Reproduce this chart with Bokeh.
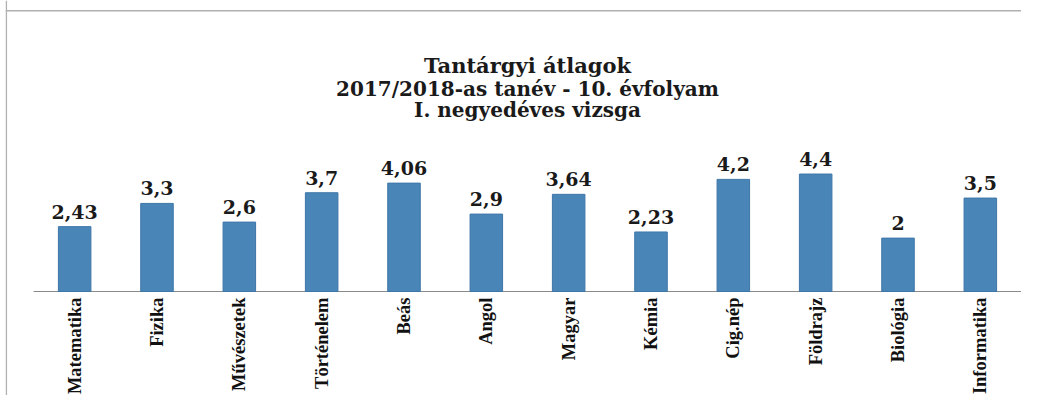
import math
from bokeh.plotting import figure
from bokeh.models import ColumnDataSource, Range1d, Span
from bokeh.core.properties import value
from bokeh.embed import file_html
from bokeh.resources import INLINE

subjects = ["Matematika", "Fizika", "Művészetek", "Történelem", "Beás", "Angol",
            "Magyar", "Kémia", "Cig.nép", "Földrajz", "Biológia", "Informatika"]
averages = [2.43, 3.3, 2.6, 3.7, 4.06, 2.9, 3.64, 2.23, 4.2, 4.4, 2, 3.5]
title_lines = ["Tantárgyi átlagok", "2017/2018-as tanév - 10. évfolyam", "I. negyedéves vizsga"]

n = len(subjects)
xs = [i + 0.5 for i in range(n)]
labels = [("%g" % v).replace(".", ",") for v in averages]
src = ColumnDataSource(dict(x=xs, top=averages, label=labels, subject=subjects,
                            zero=[0] * n))

# frame covers the whole canvas; categories occupy 0..12, the strip below 0 holds the tick labels
p = figure(width=1021, height=395, output_backend="svg", toolbar_location=None,
           x_range=Range1d(-0.34, 12), y_range=Range1d(-3.895, 10.9),
           min_border_left=5, min_border_right=0, min_border_top=0, min_border_bottom=0)
p.outline_line_color = None
p.xaxis.visible = False
p.yaxis.visible = False
p.xgrid.visible = False
p.ygrid.visible = False
p.background_fill_color = "white"
p.border_fill_color = "white"

# chart-area border (left and top)
p.add_layout(Span(location=-0.33, dimension="height", line_color="#b0b0b0", line_width=1.5))
p.add_layout(Span(location=10.52, dimension="width", line_color="#b0b0b0", line_width=1.5))

# category axis line
p.line(x=[0, n], y=[0, 0], line_color="#8a8a8a", line_width=1.2)

p.vbar(x="x", top="top", width=0.395, bottom=0, source=src,
       fill_color="#4A85B8", line_color="#3E76A8", line_width=1)
p.text(x="x", y="top", text="label", source=src, text_align="center",
       text_baseline="bottom", y_offset=-8,
       text_font=value("DejaVu Serif"), text_font_style="bold",
       text_font_size="19px", text_color="#1a1a1a")

# category (tick) labels, reading bottom-to-top, ending just under the axis line
p.text(x="x", y="zero", text="subject", source=src, angle=math.pi / 2,
       text_align="right", text_baseline="middle", y_offset=6,
       text_font=value("Liberation Serif"), text_font_style="bold",
       text_font_size="18.5px", text_color="#111111")

tsrc = ColumnDataSource(dict(x=[6] * 3, y=[8.46, 7.60, 6.78], text=title_lines,
                             size=["21px", "20px", "20px"]))
p.text(x="x", y="y", text="text", source=tsrc, text_align="center",
       text_baseline="alphabetic",
       text_font=value("DejaVu Serif"), text_font_style="bold",
       text_font_size="size", text_color="#1a1a1a")

open("out.html", "w").write(file_html(p, INLINE))
